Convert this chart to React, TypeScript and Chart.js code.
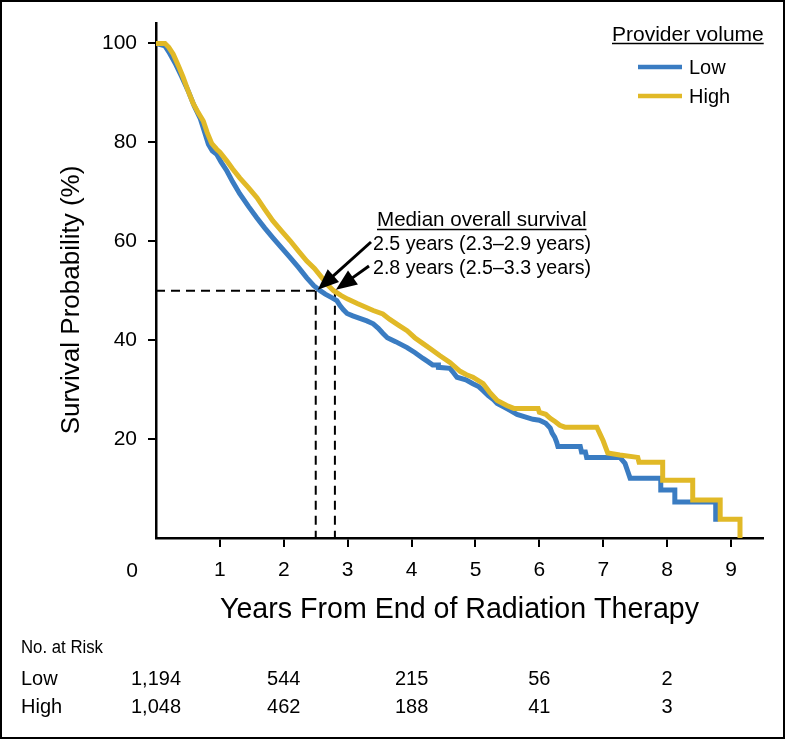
import React, { useEffect, useRef } from 'react';
import { Chart, registerables } from 'chart.js';

Chart.register(...registerables);

// ---------- data ----------
const seriesNames = ['Low', 'High'];
const legendTitle = 'Provider volume';

// Kaplan-Meier curve vertices (years, survival %); repeated times are vertical drops
const lowTimes = [
  0, 0.14, 0.2, 0.3, 0.4, 0.5, 0.6, 0.69, 0.75, 0.82, 0.88, 0.95,
  1.02, 1.11, 1.2, 1.31, 1.45, 1.58, 1.7, 1.83, 1.97,
  2.1, 2.23, 2.36, 2.47, 2.57, 2.65, 2.75, 2.83, 2.88, 2.93, 2.99,
  3.08, 3.19, 3.3, 3.4, 3.48, 3.55, 3.62, 3.75, 3.93,
  4.05, 4.18, 4.25, 4.33, 4.42, 4.42, 4.6, 4.65, 4.71, 4.85, 4.96,
  5.05, 5.12, 5.2, 5.28, 5.34, 5.44, 5.54, 5.65, 5.8, 5.9,
  6.0, 6.1, 6.17, 6.2, 6.24, 6.27, 6.29, 6.64, 6.66, 6.72, 6.74,
  7.26, 7.34, 7.38, 7.42, 7.9, 7.9, 8.12, 8.12, 8.76, 8.76,
];
const lowSurvival = [
  100, 99.5, 98.3, 96.0, 93.3, 90.5, 87.3, 84.9, 82.5, 79.6, 78.3, 77.6,
  76.0, 74.2, 72.0, 69.6, 67.0, 64.7, 62.7, 60.7, 58.6,
  56.7, 54.7, 52.6, 51.0, 50.0, 49.3, 48.6, 48.0, 47.0, 46.2, 45.4,
  44.9, 44.4, 43.9, 43.3, 42.4, 41.4, 40.5, 39.7, 38.5,
  37.5, 36.3, 35.7, 35.0, 35.0, 34.5, 34.3, 33.5, 32.5, 32.0, 31.2,
  30.6, 29.8, 28.8, 28.0, 27.2, 26.5, 25.8, 25.0, 24.4, 24.0,
  23.8, 23.2, 22.2, 21.2, 20.4, 19.4, 18.5, 18.5, 17.4, 17.4, 16.3,
  16.3, 15.1, 13.6, 12.1, 12.1, 9.7, 9.7, 7.3, 7.3, 3.3,
];

const highTimes = [
  0, 0.14, 0.2, 0.27, 0.35, 0.42, 0.5, 0.58, 0.66, 0.74, 0.8, 0.87, 0.95,
  1.0, 1.11, 1.2, 1.31, 1.45, 1.58, 1.7, 1.83, 1.97,
  2.1, 2.23, 2.36, 2.48, 2.6, 2.7, 2.78, 2.9,
  3.0, 3.15, 3.4, 3.55, 3.66, 3.8, 3.93,
  4.05, 4.18, 4.3, 4.44, 4.6, 4.76, 4.86, 4.96,
  5.12, 5.22, 5.34, 5.49, 5.6, 5.98,
  6.0, 6.1, 6.17, 6.25, 6.32, 6.4, 6.9, 6.95, 7.0, 7.04, 7.07, 7.26, 7.54, 7.56,
  7.93, 7.93, 8.4, 8.4, 8.83, 8.83, 9.14, 9.14,
];
const highSurvival = [
  100, 100, 99.2, 97.8, 95.5, 93.3, 90.5, 87.9, 86.0, 84.3, 82.0, 79.8, 78.6,
  78.0, 76.2, 74.6, 72.8, 70.8, 68.8, 66.5, 64.1, 62.0,
  60.1, 58.0, 56.0, 54.5, 52.6, 51.0, 50.0, 49.0,
  48.3, 47.4, 46.0, 45.3, 44.2, 43.0, 41.9,
  40.5, 39.3, 38.2, 36.9, 35.5, 33.7, 33.0, 32.5,
  31.2, 29.5, 27.8, 26.8, 26.2, 26.2,
  25.4, 25.0, 24.2, 23.5, 22.8, 22.4, 22.4, 21.0, 19.6, 18.2, 17.2, 16.8, 16.3, 15.3,
  15.3, 11.7, 11.7, 7.7, 7.7, 3.8, 3.8, 0,
];

const xTicks = [0, 1, 2, 3, 4, 5, 6, 7, 8, 9];
const yTicks = [0, 20, 40, 60, 80, 100];
const xMin = 0;
const xMax = 9.5;
const yMin = 0;
const yMax = 104;

const medianSurvivalLevel = 50;
const medianLow = 2.5;
const medianHigh = 2.8;
const annotationTitle = 'Median overall survival';
const annotationLines = ['2.5 years (2.3–2.9 years)', '2.8 years (2.5–3.3 years)'];

const xAxisTitle = 'Years From End of Radiation Therapy';
const yAxisTitle = 'Survival Probability (%)';

const atRiskTitle = 'No. at Risk';
const atRiskTimes = [0, 2, 4, 6, 8];
const atRiskLow = ['1,194', '544', '215', '56', '2'];
const atRiskHigh = ['1,048', '462', '188', '41', '3'];

// ---------- styles ----------
const BLUE = '#3A7CC2';
const YELLOW = '#E1B927';
const FONT = "'Liberation Sans', Arial, Helvetica, sans-serif";

function drawArrow(ctx: CanvasRenderingContext2D, x1: number, y1: number, x2: number, y2: number) {
  const headLen = 21;
  const headHalf = 8.5;
  const ang = Math.atan2(y2 - y1, x2 - x1);
  const bx = x2 - headLen * Math.cos(ang);
  const by = y2 - headLen * Math.sin(ang);
  ctx.save();
  ctx.strokeStyle = '#000';
  ctx.fillStyle = '#000';
  ctx.lineWidth = 3;
  ctx.beginPath();
  ctx.moveTo(x1, y1);
  ctx.lineTo(bx + 2 * Math.cos(ang), by + 2 * Math.sin(ang));
  ctx.stroke();
  ctx.beginPath();
  ctx.moveTo(x2, y2);
  ctx.lineTo(bx + headHalf * Math.sin(ang), by - headHalf * Math.cos(ang));
  ctx.lineTo(bx - headHalf * Math.sin(ang), by + headHalf * Math.cos(ang));
  ctx.closePath();
  ctx.fill();
  ctx.restore();
}

const overlayPlugin = {
  id: 'overlay',
  beforeDatasetsDraw(chart: any) {
    const ctx: CanvasRenderingContext2D = chart.ctx;
    const xs = chart.scales.x;
    const ys = chart.scales.y;
    const y50 = ys.getPixelForValue(medianSurvivalLevel);
    const y0 = ys.getPixelForValue(yMin);
    const xl = xs.getPixelForValue(medianLow);
    const xh = xs.getPixelForValue(medianHigh);
    ctx.save();
    ctx.strokeStyle = '#000';
    ctx.lineWidth = 2;
    ctx.setLineDash([9, 6]);
    ctx.beginPath();
    ctx.moveTo(chart.chartArea.left, y50);
    ctx.lineTo(xl, y50);
    ctx.moveTo(xl, y50);
    ctx.lineTo(xl, y0);
    ctx.moveTo(xh, y50);
    ctx.lineTo(xh, y0);
    ctx.stroke();
    ctx.restore();
  },
  afterDraw(chart: any) {
    const ctx: CanvasRenderingContext2D = chart.ctx;
    const xs = chart.scales.x;
    const ys = chart.scales.y;
    const area = chart.chartArea;
    ctx.save();
    ctx.fillStyle = '#000';
    ctx.strokeStyle = '#000';

    // origin label "0"
    ctx.font = `21px ${FONT}`;
    ctx.textAlign = 'center';
    ctx.textBaseline = 'alphabetic';
    ctx.fillText(String(xTicks[0]), area.left - 24, 577);

    // axis titles
    ctx.font = `30px ${FONT}`;
    ctx.textAlign = 'center';
    ctx.fillText(xAxisTitle, (area.left + area.right) / 2, 618, 479);

    ctx.save();
    ctx.translate(72, 300);
    ctx.rotate(-Math.PI / 2);
    ctx.font = `26px ${FONT}`;
    ctx.textAlign = 'center';
    ctx.textBaseline = 'middle';
    ctx.fillText(yAxisTitle, 0, 0);
    ctx.restore();

    // legend
    ctx.font = `21px ${FONT}`;
    ctx.textAlign = 'left';
    ctx.textBaseline = 'alphabetic';
    ctx.fillText(legendTitle, 612, 41);
    const tw = ctx.measureText(legendTitle).width;
    ctx.lineWidth = 1.5;
    ctx.beginPath();
    ctx.moveTo(612, 43.5);
    ctx.lineTo(612 + tw, 43.5);
    ctx.stroke();
    const legendColors = [BLUE, YELLOW];
    const legendY = [67, 96];
    ctx.font = `20px ${FONT}`;
    seriesNames.forEach((name, i) => {
      ctx.strokeStyle = legendColors[i];
      ctx.lineWidth = 4.5;
      ctx.beginPath();
      ctx.moveTo(638, legendY[i]);
      ctx.lineTo(682, legendY[i]);
      ctx.stroke();
      ctx.fillStyle = '#000';
      ctx.fillText(name, 689, legendY[i] + 7);
    });

    // annotation
    ctx.strokeStyle = '#000';
    ctx.fillStyle = '#000';
    ctx.font = `20.6px ${FONT}`;
    ctx.textAlign = 'left';
    ctx.fillText(annotationTitle, 377, 226);
    const aw = ctx.measureText(annotationTitle).width;
    ctx.lineWidth = 1.5;
    ctx.beginPath();
    ctx.moveTo(377, 229.5);
    ctx.lineTo(377 + aw, 229.5);
    ctx.stroke();
    ctx.font = `20px ${FONT}`;
    ctx.fillText(annotationLines[0], 373, 250, 218);
    ctx.fillText(annotationLines[1], 373, 274, 218);

    const y50 = ys.getPixelForValue(medianSurvivalLevel);
    drawArrow(ctx, 371, 242, xs.getPixelForValue(medianLow) + 2, y50 - 1);
    drawArrow(ctx, 369, 266, xs.getPixelForValue(medianHigh) + 1, y50 - 1);

    // number at risk
    ctx.fillStyle = '#000';
    ctx.textAlign = 'left';
    ctx.font = `18px ${FONT}`;
    ctx.fillText(atRiskTitle, 21, 653, 82);
    ctx.font = `20px ${FONT}`;
    ctx.fillText(seriesNames[0], 21, 685);
    ctx.fillText(seriesNames[1], 21, 713);
    ctx.textAlign = 'center';
    atRiskTimes.forEach((t, i) => {
      const px = xs.getPixelForValue(t);
      ctx.fillText(atRiskLow[i], px, 685);
      ctx.fillText(atRiskHigh[i], px, 713);
    });

    // frame
    ctx.lineWidth = 2;
    ctx.strokeStyle = '#000';
    ctx.strokeRect(1, 1, 783, 737);
    ctx.restore();
  },
};

export default function App() {
  const ref = useRef<HTMLCanvasElement>(null);
  useEffect(() => {
    document.body.style.margin = '0';
    const canvas = ref.current;
    if (!canvas) return;
    const tickColor = (c: any) => (c.tick && c.tick.value === 0 ? 'rgba(0,0,0,0)' : '#000');
    const chart = new Chart(canvas, {
      type: 'line',
      data: {
        datasets: [
          {
            label: seriesNames[1],
            data: highTimes.map((t, i) => ({ x: t, y: highSurvival[i] })),
            borderColor: YELLOW,
            backgroundColor: YELLOW,
            borderWidth: 5,
            pointRadius: 0,
            tension: 0,
            fill: false,
            order: 1,
            borderJoinStyle: 'miter',
            borderCapStyle: 'butt',
          },
          {
            label: seriesNames[0],
            data: lowTimes.map((t, i) => ({ x: t, y: lowSurvival[i] })),
            borderColor: BLUE,
            backgroundColor: BLUE,
            borderWidth: 5,
            pointRadius: 0,
            tension: 0,
            fill: false,
            order: 2,
            borderJoinStyle: 'miter',
            borderCapStyle: 'butt',
          },
        ],
      } as any,
      options: {
        responsive: false,
        animation: false,
        events: [],
        layout: { padding: { top: 22, right: 23, left: 0, bottom: 0 } },
        plugins: { legend: { display: false }, tooltip: { enabled: false }, title: { display: false } },
        scales: {
          x: {
            type: 'linear',
            min: xMin,
            max: xMax,
            afterBuildTicks: (s: any) => {
              s.ticks = xTicks.map((v) => ({ value: v }));
            },
            afterFit: (s: any) => {
              s.height = 202;
            },
            border: { display: true, color: '#000', width: 2.5 },
            grid: { display: true, drawOnChartArea: false, drawTicks: true, tickLength: 9, lineWidth: 2, color: tickColor },
            ticks: {
              color: '#000',
              font: { family: FONT, size: 21 },
              padding: 11,
              maxRotation: 0,
              autoSkip: false,
              callback: (v: any) => (v === 0 ? '' : String(v)),
            },
          },
          y: {
            type: 'linear',
            min: yMin,
            max: yMax,
            afterBuildTicks: (s: any) => {
              s.ticks = yTicks.map((v) => ({ value: v }));
            },
            afterFit: (s: any) => {
              s.width = 156;
            },
            border: { display: true, color: '#000', width: 2.5 },
            grid: { display: true, drawOnChartArea: false, drawTicks: true, tickLength: 8, lineWidth: 2, color: tickColor },
            ticks: {
              color: '#000',
              font: { family: FONT, size: 21 },
              padding: 11,
              autoSkip: false,
              callback: (v: any) => (v === 0 ? '' : String(v)),
            },
          },
        },
      } as any,
      plugins: [overlayPlugin],
    });
    return () => chart.destroy();
  }, []);
  return (
    <div style={{ width: 786, height: 740 }}>
      <canvas ref={ref} width={786} height={740} style={{ display: 'block', width: 786, height: 740 }} />
    </div>
  );
}
